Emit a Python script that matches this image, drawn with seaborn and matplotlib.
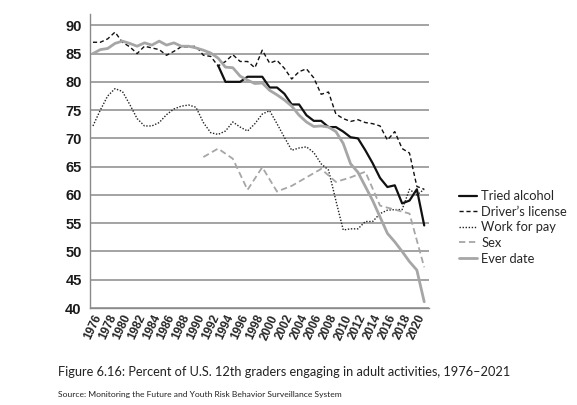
import numpy as np
import pandas as pd
import matplotlib
matplotlib.use("Agg")
import matplotlib.pyplot as plt
import seaborn as sns
from matplotlib.ticker import MultipleLocator

# Data
years = list(range(1976, 2022))

driver_license = [87, 87, 87.6, 88.8, 87, 86.2, 85, 86.3, 86, 85.7,
                  84.7, 85.4, 86.2, 86.2, 86.3, 84.7, 84.5, 82.8, 83.6, 84.8,
                  83.6, 83.6, 82.5, 85.6, 83.3, 83.8, 82.4, 80.5, 81.8, 82.3,
                  80.7, 77.8, 78.2, 74.3, 73.5, 73.0, 73.3, 72.8, 72.6, 72.2,
                  69.7, 71.2, 68.2, 67.4, 61.5, 61.0]

ever_date = [85, 85.7, 85.9, 86.8, 87.2, 86.8, 86.3, 86.9, 86.5, 87.2,
             86.5, 86.9, 86.3, 86.3, 86.0, 85.6, 85.1, 84.2, 82.6, 82.5,
             81.0, 80.3, 79.7, 79.8, 78.5, 77.7, 76.8, 75.7, 74.1, 72.9,
             72.1, 72.2, 72.0, 71.2, 69.1, 65.5, 64.0, 61.5, 59.0, 56.1,
             53.2, 51.7, 50.0, 48.2, 46.7, 41.1]

work_for_pay = [72.2, 75.0, 77.5, 78.8, 78.3, 76.0, 73.5, 72.2, 72.2, 72.8,
                74.2, 75.2, 75.7, 75.9, 75.5, 72.8, 71.0, 70.7, 71.3, 72.9,
                72.0, 71.3, 72.6, 74.3, 74.9, 72.6, 70.2, 67.9, 68.3, 68.5,
                67.5, 65.5, 64.4, 59.0, 53.8, 54.0, 54.0, 55.3, 55.3, 56.7,
                57.3, 57.4, 57.4, 61.0, 60.0, 61.0]

alcohol_years = list(range(1993, 2022))
tried_alcohol = [82.9, 80.0, 80.0, 80.0, 80.9, 80.9, 80.9, 79.0, 79.0, 77.9,
                 76.0, 76.0, 74.1, 73.1, 73.1, 72.0, 72.0, 71.2, 70.2, 70.0,
                 67.9, 65.6, 63.0, 61.4, 61.7, 58.5, 59.0, 61.0, 54.6]

sex_years = list(range(1991, 2022, 2))
sex = [66.7, 68.2, 66.4, 60.9, 64.9, 60.6, 61.6, 63.1, 64.6, 62.3,
       63.1, 64.1, 58.1, 57.4, 56.7, 47.2]

series = [
    ("Tried alcohol", alcohol_years, tried_alcohol, "#111111", "-", 1.6),
    ("Driver\u2019s license", years, driver_license, "#111111", (0, (3, 2)), 1.0),
    ("Work for pay", years, work_for_pay, "#222222", (0, (1, 1.2)), 1.0),
    ("Sex", sex_years, sex, "#a6a6a6", (0, (3.5, 2)), 1.3),
    ("Ever date", years, ever_date, "#a6a6a6", "-", 2.0),
]

sns.set_style("white")
plt.rcParams["font.family"] = ["Liberation Sans", "DejaVu Sans"]

fig = plt.figure(figsize=(5.77, 4.05), dpi=100)
ax = fig.add_axes([90 / 577, 97 / 405, 339 / 577, 294 / 405])

for name, x, y, color, ls, lw in series:
    df = pd.DataFrame({"year": x, "value": y})
    sns.lineplot(data=df, x="year", y="value", ax=ax, color=color,
                 linestyle=ls, linewidth=lw, label=name)

ax.set_xlim(1975.6, 2021.65)
ax.set_ylim(40, 92)
ax.set_yticks(range(40, 91, 5))
ax.xaxis.set_major_locator(MultipleLocator(2))
ax.xaxis.set_minor_locator(MultipleLocator(1))
ax.set_xticks(range(1976, 2021, 2))
ax.yaxis.grid(True, color="#8a8a8a", linewidth=1.1)
ax.set_axisbelow(True)
ax.set_xlabel("")
ax.set_ylabel("")

for side in ["top", "right"]:
    ax.spines[side].set_visible(False)
for side in ["left", "bottom"]:
    ax.spines[side].set_color("#8a8a8a")
    ax.spines[side].set_linewidth(1.0)

ax.tick_params(axis="y", length=0, labelsize=10.5, pad=6, labelcolor="#1a1a1a")
ax.tick_params(axis="x", which="both", length=2.5, width=0.7, color="#8a8a8a",
               direction="out", labelsize=8.5, pad=1)
for lab in ax.get_yticklabels():
    lab.set_fontweight("bold")
for lab in ax.get_xticklabels():
    lab.set_fontweight("bold")
    lab.set_rotation(65)
    lab.set_ha("right")
    lab.set_rotation_mode("anchor")

leg = ax.legend(loc="upper left", bbox_to_anchor=(454 / 577, 1 - 185 / 405),
                bbox_transform=fig.transFigure, frameon=False, handlelength=1.4,
                handletextpad=0.3, labelspacing=0.28, borderaxespad=0,
                prop={"family": ["Lato", "DejaVu Sans"], "size": 9.3})

fig.text(58 / 577, 1 - 372 / 405,
         "Figure 6.16: Percent of U.S. 12th graders engaging in adult activities, 1976\u20132021",
         fontsize=9.2, family=["Lato", "DejaVu Sans"], va="center", ha="left",
         color="#222222")
fig.text(58 / 577, 1 - 394 / 405,
         "Source: Monitoring the Future and Youth Risk Behavior Surveillance System",
         fontsize=6.1, family=["Lato", "DejaVu Sans"], va="center", ha="left",
         color="#222222")

fig.savefig("out.png", dpi=100)
